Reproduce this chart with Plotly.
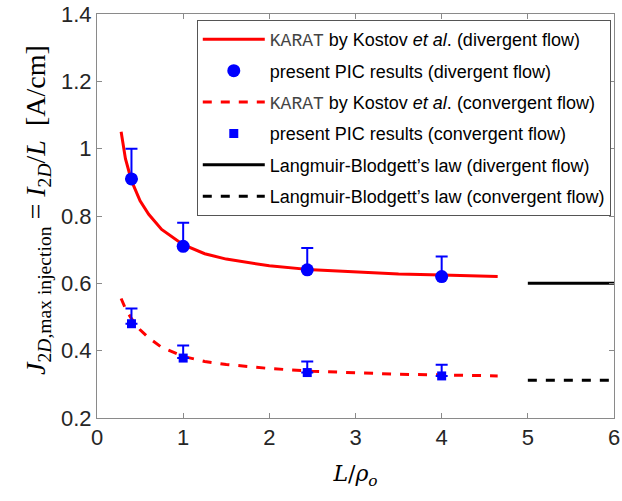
import plotly.graph_objects as go

# KARAT curves (Kostov et al.)
karat_x = [0.28, 0.33, 0.4, 0.5, 0.6, 0.75, 1.0, 1.25, 1.5, 2.0, 2.5, 3.0, 3.5, 4.0, 4.65]
karat_div = [1.05, 0.97, 0.905, 0.845, 0.805, 0.76, 0.715, 0.688, 0.672, 0.652, 0.640, 0.633, 0.628, 0.625, 0.620]
karat_conv = [0.555, 0.525, 0.495, 0.462, 0.438, 0.410, 0.383, 0.368, 0.359, 0.347, 0.339, 0.334, 0.330, 0.328, 0.325]

# present PIC results
pic_x = [0.4, 1.0, 2.44, 4.0]
pic_div = [0.91, 0.71, 0.64, 0.62]
pic_div_err = [0.09, 0.07, 0.065, 0.06]
pic_conv = [0.48, 0.378, 0.335, 0.325]
pic_conv_err = [0.045, 0.037, 0.033, 0.033]

# Langmuir-Blodgett's law
lb_x = [5.0, 6.0]
lb_div = [0.6, 0.6]
lb_conv = [0.312, 0.312]

x_ticks = [0, 1, 2, 3, 4, 5, 6]
y_ticks = [0.2, 0.4, 0.6, 0.8, 1.0, 1.2, 1.4]
y_ticklabels = ["0.2", "0.4", "0.6", "0.8", "1", "1.2", "1.4"]

karat = '<span style="font-family:Liberation Mono, DejaVu Sans Mono, monospace; fill:#444444">KARAT</span>'

fig = go.Figure()
fig.add_trace(go.Scatter(x=karat_x, y=karat_div, mode="lines",
                         line=dict(color="#ff0000", width=3), legendgroup="a",
                         name=karat + " by Kostov <i>et al</i>. (divergent flow)"))
fig.add_trace(go.Scatter(x=pic_x, y=pic_div, mode="markers",
                         marker=dict(color="#0000ff", size=13, symbol="circle"),
                         error_y=dict(type="data", symmetric=False, array=pic_div_err,
                                      arrayminus=[0] * 4, color="#0000ff", thickness=2, width=6),
                         legendgroup="b", name="present PIC results (divergent flow)"))
fig.add_trace(go.Scatter(x=karat_x, y=karat_conv, mode="lines",
                         line=dict(color="#ff0000", width=3, dash="dash"), legendgroup="c",
                         name=karat + " by Kostov <i>et al</i>. (convergent flow)"))
fig.add_trace(go.Scatter(x=pic_x, y=pic_conv, mode="markers",
                         marker=dict(color="#0000ff", size=9, symbol="square"),
                         error_y=dict(type="data", symmetric=False, array=pic_conv_err,
                                      arrayminus=[0] * 4, color="#0000ff", thickness=2, width=6),
                         legendgroup="d", name="present PIC results (convergent flow)"))
fig.add_trace(go.Scatter(x=lb_x, y=lb_div, mode="lines",
                         line=dict(color="#000000", width=3), legendgroup="e",
                         name="Langmuir-Blodgett’s law (divergent flow)"))
fig.add_trace(go.Scatter(x=lb_x, y=lb_conv, mode="lines",
                         line=dict(color="#000000", width=3, dash="dash"), legendgroup="f",
                         name="Langmuir-Blodgett’s law (convergent flow)"))

axis_common = dict(showline=True, linecolor="#8a8a8a", linewidth=1, mirror="ticks",
                   ticks="inside", ticklen=5, tickcolor="#8a8a8a", showgrid=False,
                   zeroline=False, automargin=False,
                   tickfont=dict(family="Liberation Sans, Arial", size=22, color="#262626"))

fig.update_layout(
    width=622, height=501,
    margin=dict(l=97, r=8, t=14, b=83),
    plot_bgcolor="white", paper_bgcolor="white",
    font=dict(family="Liberation Sans, Arial", color="#262626"),
    xaxis=dict(range=[0, 6], tickvals=x_ticks, **axis_common,
               title=dict(text="<i>L</i>/<i>ρ<sub>o</sub></i>", standoff=16,
                          font=dict(family="DejaVu Serif, Liberation Serif", size=22, color="#000"))),
    yaxis=dict(range=[0.2, 1.4], tickvals=y_ticks, ticktext=y_ticklabels, **axis_common),
    legend=dict(x=0.193, y=0.985, xanchor="left", yanchor="top",
                bgcolor="white", bordercolor="#555555", borderwidth=1,
                font=dict(family="Liberation Sans, Arial", size=18, color="#000"),
                traceorder="grouped", tracegroupgap=5, itemwidth=62),
    showlegend=True,
    annotations=[dict(
        text="<i>J</i><sub>2<i>D</i>,max injection</sub> = <i>I</i><sub>2<i>D</i></sub>/<i>L</i>  [A/cm]",
        xref="paper", yref="paper", x=-0.114, y=0.515, xanchor="center", yanchor="middle",
        textangle=-90, showarrow=False,
        font=dict(family="Liberation Serif, DejaVu Serif", size=28, color="#000"))],
)

fig.write_html("out.html", config={"displayModeBar": False},
               post_script="document.body.style.margin='0';")
